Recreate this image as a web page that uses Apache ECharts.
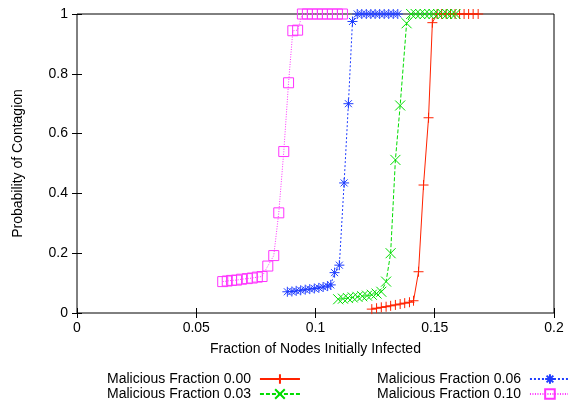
<!DOCTYPE html>
<html>
<head>
<meta charset="utf-8">
<script src="https://cdn.jsdelivr.net/npm/echarts@6/dist/echarts.min.js"></script>
<style>
  html, body { margin: 0; padding: 0; background: #fff; }
  #chart { width: 568px; height: 405px; }
</style>
</head>
<body>
<div id="chart"></div>
<script>
// series names (legend)
var seriesNames = ['Malicious Fraction 0.00', 'Malicious Fraction 0.03', 'Malicious Fraction 0.06', 'Malicious Fraction 0.10'];

// fraction initially infected (x) / probability of contagion (y)
var x00 = [0.1236,0.1256,0.1276,0.1296,0.1315,0.1335,0.1355,0.1374,0.1394,0.1411,0.1432,0.1453,0.1474,0.1490,0.1510,0.1529,0.1548,0.1566,0.1585,0.1604,0.1623,0.1642,0.1661,0.1682];
var y00 = [0.013,0.016,0.019,0.021,0.024,0.027,0.030,0.033,0.036,0.041,0.138,0.428,0.653,0.971,1,1,1,1,1,1,1,1,1,1];

var x03 = [0.1095,0.1115,0.1136,0.1156,0.1176,0.1196,0.1216,0.1236,0.1256,0.1276,0.1296,0.1315,0.1335,0.1355,0.1382,0.1401,0.1420,0.1439,0.1458,0.1477,0.1495,0.1514,0.1533,0.1552,0.1571,0.1587];
var y03 = [0.046,0.048,0.050,0.052,0.054,0.056,0.058,0.061,0.065,0.071,0.105,0.200,0.512,0.694,0.969,1,1,1,1,1,1,1,1,1,1,1];

var x06 = [0.0882,0.0901,0.0919,0.0938,0.0957,0.0976,0.0995,0.1014,0.1032,0.1051,0.1064,0.1080,0.1100,0.1120,0.1138,0.1155,0.1175,0.1194,0.1213,0.1232,0.1250,0.1269,0.1288,0.1307,0.1326,0.1345];
var y06 = [0.071,0.072,0.074,0.076,0.078,0.080,0.082,0.084,0.087,0.090,0.094,0.135,0.160,0.435,0.700,0.975,1,1,1,1,1,1,1,1,1,1];

var x10 = [0.0611,0.0630,0.0648,0.0669,0.0690,0.0714,0.0735,0.0756,0.0776,0.0800,0.0825,0.0846,0.0867,0.0887,0.0905,0.0925,0.0945,0.0966,0.0987,0.1008,0.1029,0.1050,0.1071,0.1092,0.1113];
var y10 = [0.105,0.107,0.109,0.110,0.113,0.115,0.117,0.120,0.122,0.157,0.192,0.335,0.540,0.770,0.944,0.946,1,1,1,1,1,1,1,1,1];

function pairs(xs, ys) {
    return xs.map(function (x, i) { return [x, ys[i]]; });
}

var FONT = 'Liberation Sans';
var FS = 14;

// gnuplot style point markers
var PLUS = 'path://M0,5L10,5M5,0L5,10';
var CROSS = 'path://M0,0L10,10M0,10L10,0';
var STAR = 'path://M0,5L10,5M5,0L5,10M1.5,1.5L8.5,8.5M1.5,8.5L8.5,1.5';
var BOX = 'path://M0,0L10,0L10,10L0,10Z';

function mkSeries(name, data, color, symbol, lineType, fill) {
    return {
        name: name,
        type: 'line',
        data: data,
        clip: false,
        symbol: symbol,
        symbolSize: 10,
        showAllSymbol: true,
        lineStyle: { color: color, width: 1, type: lineType },
        itemStyle: { color: fill, borderColor: color, borderWidth: 1 },
        emphasis: { disabled: true },
        animation: false
    };
}

function mkLegend(name, left, top) {
    return {
        data: [name],
        left: left,
        top: top,
        align: 'right',
        itemWidth: 40,
        itemHeight: 12,
        selectedMode: false,
        textStyle: { fontFamily: FONT, fontSize: FS, color: '#000', padding: [0, 4, 0, 0] }
    };
}

var myChart = echarts.init(document.getElementById('chart'));
var option = {
    backgroundColor: '#fff',
    animation: false,
    grid: {
        left: 77, right: 14, top: 14, bottom: 92,
        show: true, borderColor: '#000', borderWidth: 1
    },
    legend: [
        mkLegend(seriesNames[0], 102, 367),
        mkLegend(seriesNames[1], 102, 382),
        mkLegend(seriesNames[2], 372, 367),
        mkLegend(seriesNames[3], 372, 382)
    ],
    xAxis: [{
        type: 'value',
        min: 0, max: 0.2, interval: 0.05,
        name: 'Fraction of Nodes Initially Infected',
        nameLocation: 'middle',
        nameGap: 29,
        nameTextStyle: { fontFamily: FONT, fontSize: FS, color: '#000' },
        axisLine: { show: false },
        axisTick: { show: true, inside: true, length: 5, lineStyle: { color: '#000' } },
        axisLabel: { fontFamily: FONT, fontSize: FS, color: '#000', margin: 8 },
        splitLine: { show: false }
    }, {
        type: 'value', position: 'top',
        min: 0, max: 0.2, interval: 0.05,
        axisLine: { show: false },
        axisTick: { show: true, inside: true, length: 5, lineStyle: { color: '#000' } },
        axisLabel: { show: false },
        splitLine: { show: false }
    }],
    yAxis: [{
        type: 'value',
        min: 0, max: 1, interval: 0.2,
        name: 'Probability of Contagion',
        nameLocation: 'middle',
        nameGap: 52,
        nameTextStyle: { fontFamily: FONT, fontSize: FS, color: '#000' },
        axisLine: { show: false },
        axisTick: { show: true, inside: true, length: 5, lineStyle: { color: '#000' } },
        axisLabel: { fontFamily: FONT, fontSize: FS, color: '#000', margin: 9 },
        splitLine: { show: false }
    }, {
        type: 'value', position: 'right',
        min: 0, max: 1, interval: 0.2,
        axisLine: { show: false },
        axisTick: { show: true, inside: true, length: 5, lineStyle: { color: '#000' } },
        axisLabel: { show: false },
        splitLine: { show: false }
    }],
    series: [
        mkSeries(seriesNames[0], pairs(x00, y00), '#ff2200', PLUS, 'solid', '#ff2200'),
        mkSeries(seriesNames[1], pairs(x03, y03), '#00dd00', CROSS, [4, 2], '#00dd00'),
        mkSeries(seriesNames[2], pairs(x06, y06), '#1f3dff', STAR, [2, 2], '#1f3dff'),
        mkSeries(seriesNames[3], pairs(x10, y10), '#ff33ff', BOX, [1, 1.5], 'rgba(255,51,255,0)')
    ]
};
myChart.setOption(option);
</script>
</body>
</html>
